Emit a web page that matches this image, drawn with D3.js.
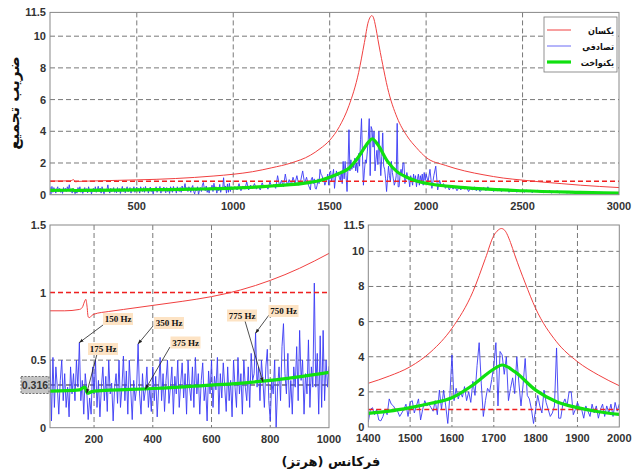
<!DOCTYPE html>
<html>
<head>
<meta charset="utf-8">
<script src="https://cdn.jsdelivr.net/npm/d3@7"></script>
<style>
  body { margin: 0; background: #fff; }
  svg { display: block; }
  .tick-label { font-family: "Liberation Sans", Arial, sans-serif; font-size: 11px; font-weight: bold; fill: #333; }
  .fa { font-family: "DejaVu Sans", sans-serif; font-weight: bold; fill: #111; }
  .note { font-family: "Liberation Serif", serif; font-size: 9px; font-weight: bold; fill: #111; }
</style>
</head>
<body>
<svg id="chart" width="633" height="475"></svg>
<script>
// ---- data ----
// blue (random) response: 50..1000 Hz, every 5 Hz
const blueLow = [
  0.5, 0.05, 0.52, 0.15, 0.45, 0.3, 0.1, 0.35, 0.5, 0.2,
  0.4, 0.15, 0.3, 0.08, 0.45, 0.25, 0.4, 0.2, 0.5, 0.3,
  0.63, 0.2, 0.35, 0.1, 0.4, 0.28, 0.06, 0.22, 0.1, 0.45,
  0.25, 0.5, 0.15, 0.35, 0.08, 0.3, 0.45, 0.2, 0.38, 0.12,
  0.5, 0.25, 0.33, 0.05, 0.3, 0.4, 0.18, 0.5, 0.15, 0.3,
  0.53, 0.2, 0.42, 0.1, 0.5, 0.28, 0.06, 0.35, 0.2, 0.3,
  0.62, 0.25, 0.1, 0.4, 0.2, 0.28, 0.45, 0.15, 0.3, 0.12,
  0.45, 0.2, 0.38, 0.08, 0.3, 0.52, 0.2, 0.4, 0.12, 0.35,
  0.5, 0.18, 0.3, 0.45, 0.1, 0.38, 0.25, 0.5, 0.15, 0.33,
  0.48, 0.22, 0.4, 0.1, 0.5, 0.3, 0.2, 0.45, 0.15, 0.52,
  0.25, 0.4, 0.1, 0.35, 0.48, 0.2, 0.3, 0.05, 0.42, 0.25,
  0.5, 0.15, 0.38, 0.28, 0.52, 0.1, 0.4, 0.22, 0.48, 0.3,
  0.12, 0.45, 0.2, 0.35, 0.08, 0.5, 0.3, 0.15, 0.52, 0.25,
  0.4, 0.1, 0.5, 0.3, 0.2, 0.45, 0.15, 0.55, 0.35, 0.4,
  0.7, 0.3, 0.45, 0.2, 0.5, 0.35, 0.15, 0.45, 0.58, 0.2,
  0.05, 0.35, 0.25, 0.5, 0.0, 0.3, 0.45, 0.2, 0.6, 0.77,
  0.4, 0.25, 0.55, 0.15, 0.35, 0.1, 0.45, 0.3, 0.6, 0.2,
  0.72, 0.35, 0.5, 0.1, 0.4, 0.25, 0.65, 0.15, 0.45, 0.3,
  1.07, 0.3, 0.55, 0.1, 0.68, 0.15, 0.72, 0.2, 0.5, 0.3,
  0.45
];
// 1010..1390 Hz, every 10 Hz
const blueGap = [
  0.5, 0.3, 0.7, 0.25, 0.55, 0.35, 0.8, 0.3, 0.6, 0.4,
  0.7, 0.35, 0.55, 0.3, 0.75, 0.45, 0.6, 0.35, 0.8, 0.5,
  0.65, 0.4, 1.2, 0.55, 0.9, 0.5, 1.3, 0.6, 0.95, 0.55,
  1.1, 0.7, 1.2, 0.6, 0.9, 1.5, 0.7, 1.1, 0.6
];
// 1400..2000 Hz, every 5 Hz
const blueMid = [
  0.3, 1.0, 1.1, 0.7, 1.0, 0.4, 0.35, 0.6, 1.0, 0.7,
  1.6, 1.3, 1.2, 1.0, 0.9, 0.6, 0.8, 1.0, 1.3, 0.6,
  1.4, 1.5, 0.8, 1.2, 1.6, 0.4, 1.0, 1.5, 1.2, 1.3,
  1.1, 0.9, 1.5, 0.7, 2.1, 1.0, 2.1, 1.2, 0.2, 1.8,
  4.1, 1.5, 2.2, 1.6, 2.0, 1.7, 2.3, 1.5, 2.0, 1.4,
  2.6, 1.8, 3.5, 4.8, 2.5, 0.6, 1.5, 2.2, 2.0, 2.7,
  3.5, 4.8, 1.2, 4.3, 4.1, 3.0, 4.0, 1.5, 2.2, 2.8,
  1.9, 4.0, 2.5, 1.2, 2.4, 3.9, 1.8, 1.6, 1.0, 0.2,
  1.0, 1.8, 1.2, 0.8, 2.1, 1.4, 1.0, 0.6, 0.8, 1.2,
  4.5, 0.5, 0.5, 1.3, 1.6, 1.2, 2.0, 2.0, 0.7, 1.0,
  1.4, 1.1, 1.0, 0.5, 1.2, 0.9, 0.6, 1.3, 0.8, 1.2,
  0.5, 1.0, 1.3, 0.6, 1.2, 0.8, 1.3, 0.6, 1.4, 0.9,
  1.3
];
// 2010..3000 Hz, every 10 Hz
const blueHigh = [
  0.8, 1.6, 0.4, 1.2, 1.8, 0.3, 0.9, 0.5, 0.7, 0.4,
  0.6, 0.3, 0.55, 0.35, 0.5, 0.25, 0.45, 0.3, 0.5, 0.35,
  0.45, 0.2, 0.4, 0.3, 0.5, 0.25, 0.4, 0.2, 0.35, 0.45,
  0.25, 0.5, 0.3, 0.4, 0.2, 0.35, 0.25, 0.4, 0.2, 0.3,
  0.25, 0.35, 0.15, 0.3, 0.2, 0.35, 0.15, 0.3, 0.2, 0.25,
  0.15, 0.3, 0.2, 0.28, 0.12, 0.25, 0.18, 0.3, 0.15, 0.25,
  0.12, 0.22, 0.15, 0.28, 0.1, 0.2, 0.15, 0.25, 0.1, 0.2,
  0.12, 0.22, 0.1, 0.18, 0.12, 0.2, 0.08, 0.18, 0.12, 0.2,
  0.1, 0.15, 0.08, 0.18, 0.1, 0.15, 0.08, 0.14, 0.1, 0.15,
  0.08, 0.13, 0.07, 0.12, 0.09, 0.13, 0.07, 0.11, 0.08, 0.1
];

// red (uniform) response, sampled at uneven frequencies
const redFreq = [50, 100, 150, 160, 167, 172, 176, 180, 185, 192, 200, 250, 300, 400, 500, 600, 700, 800, 900, 1000,
  1100, 1200, 1300, 1400, 1450, 1500, 1550, 1600, 1650, 1680, 1700, 1710, 1718, 1726, 1740, 1750, 1775, 1800, 1850,
  1900, 1950, 2000, 2100, 2200, 2300, 2400, 2500, 2600, 2700, 2800, 2900, 3000];
const redVal = [0.865, 0.865, 0.875, 0.89, 0.93, 0.95, 0.9, 0.82, 0.815, 0.83, 0.84, 0.86, 0.875, 0.905, 0.935, 0.97, 1.02, 1.09, 1.18, 1.29,
  1.45, 1.7, 2.0, 2.49, 2.9, 3.43, 4.29, 5.62, 7.7, 9.6, 10.9, 11.2, 11.3, 11.2, 10.5, 9.8, 8.2, 6.75, 4.85,
  3.72, 2.96, 2.35, 1.85, 1.5, 1.25, 1.05, 0.92, 0.8, 0.7, 0.6, 0.52, 0.45];

// green (smoothed) response
const greenFreq = [50, 150, 168, 178, 190, 200, 400, 600, 800, 1000, 1200, 1400, 1450, 1500, 1550, 1600, 1650, 1700,
  1720, 1750, 1800, 1850, 1900, 1950, 2000, 2200, 2500, 2800, 3000];
const greenVal = [0.27, 0.28, 0.3, 0.255, 0.265, 0.27, 0.29, 0.315, 0.35, 0.41, 0.55, 0.78, 0.9, 1.1, 1.35, 1.67, 2.39, 3.3,
  3.53, 3.15, 2.1, 1.44, 1.1, 0.87, 0.72, 0.45, 0.25, 0.15, 0.1];

const thresholdTop = 0.85;
const thresholdZoom = 1;
const refLevel = 0.316;

const legendLabels = ["یکسان", "تصادفی", "یکنواخت"];
const noteLabels = ["150 Hz", "175 Hz", "350 Hz", "375 Hz", "775 Hz", "750 Hz"];
const noteFreq = [150, 175, 350, 375, 775, 750];
const noteTarget = [0.63, 0.255, 0.62, 0.285, 0.34, 0.7];

// ---- assemble the blue series ----
const blueFreq = [].concat(d3.range(50, 1001, 5), d3.range(1010, 1391, 10), d3.range(1400, 2001, 5), d3.range(2010, 3001, 10));
const blueVal = [].concat(blueLow, blueGap, blueMid, blueHigh);
const blue = blueFreq.map((f, i) => ({f: f, v: blueVal[i]}));
const red = redFreq.map((f, i) => ({f: f, v: redVal[i]}));
const green = greenFreq.map((f, i) => ({f: f, v: greenVal[i]}));

const svg = d3.select("#chart");
const defs = svg.append("defs");
defs.append("marker")
    .attr("id", "arrow")
    .attr("viewBox", "0 0 10 10")
    .attr("refX", 9).attr("refY", 5)
    .attr("markerWidth", 6).attr("markerHeight", 6)
    .attr("orient", "auto")
  .append("path")
    .attr("d", "M0,1.5 L10,5 L0,8.5 z")
    .attr("fill", "#222");

function drawPanel(cfg) {
  const x = d3.scaleLinear().domain(cfg.xDomain).range([cfg.left, cfg.right]);
  const y = d3.scaleLinear().domain(cfg.yDomain).range([cfg.bottom, cfg.top]);
  const g = svg.append("g");

  defs.append("clipPath").attr("id", "clip-" + cfg.id)
    .append("rect")
      .attr("x", cfg.left).attr("y", cfg.top)
      .attr("width", cfg.right - cfg.left).attr("height", cfg.bottom - cfg.top);

  // grid
  g.selectAll(".vgrid").data(cfg.xTicks.filter(t => t > cfg.xDomain[0] && t < cfg.xDomain[1]))
    .join("line")
      .attr("x1", d => x(d)).attr("x2", d => x(d))
      .attr("y1", cfg.top).attr("y2", cfg.bottom)
      .attr("stroke", "#555").attr("stroke-width", 0.8).attr("stroke-dasharray", "5,3");
  g.selectAll(".hgrid").data(cfg.yTicks.filter(t => t > cfg.yDomain[0] && t < cfg.yDomain[1]))
    .join("line")
      .attr("x1", cfg.left).attr("x2", cfg.right)
      .attr("y1", d => y(d)).attr("y2", d => y(d))
      .attr("stroke", "#555").attr("stroke-width", 0.8).attr("stroke-dasharray", "5,3");

  const plot = g.append("g").attr("clip-path", "url(#clip-" + cfg.id + ")");

  if (cfg.refLine) {
    plot.append("line")
      .attr("x1", cfg.left).attr("x2", cfg.right)
      .attr("y1", y(refLevel)).attr("y2", y(refLevel))
      .attr("stroke", "#222").attr("stroke-width", 1).attr("stroke-dasharray", "5,3");
  }

  const line = d3.line().x(d => x(d.f)).y(d => y(d.v));
  const smooth = d3.line().x(d => x(d.f)).y(d => y(d.v)).curve(d3.curveMonotoneX);
  const inView = arr => arr.filter(d => d.f >= cfg.xDomain[0] - 60 && d.f <= cfg.xDomain[1] + 60);

  plot.append("path").datum(inView(blue))
    .attr("d", line).attr("fill", "none")
    .attr("stroke", "#3a3af5").attr("stroke-width", 0.9);

  plot.append("line")
    .attr("x1", cfg.left).attr("x2", cfg.right)
    .attr("y1", y(cfg.threshold)).attr("y2", y(cfg.threshold))
    .attr("stroke", "#f02020").attr("stroke-width", 1.6).attr("stroke-dasharray", "5,3");

  plot.append("path").datum(inView(red))
    .attr("d", smooth).attr("fill", "none")
    .attr("stroke", "#f04040").attr("stroke-width", 1);

  plot.append("path").datum(inView(green))
    .attr("d", smooth).attr("fill", "none")
    .attr("stroke", "#10e010").attr("stroke-width", 3.2);

  // frame
  g.append("rect")
    .attr("x", cfg.left).attr("y", cfg.top)
    .attr("width", cfg.right - cfg.left).attr("height", cfg.bottom - cfg.top)
    .attr("fill", "none").attr("stroke", "#888").attr("stroke-width", 1);

  // tick labels
  g.selectAll(".xl").data(cfg.xLabels)
    .join("text")
      .attr("class", "tick-label")
      .attr("x", d => x(d)).attr("y", cfg.bottom + 15)
      .attr("text-anchor", "middle")
      .text(d => d);
  g.selectAll(".yl").data(cfg.yTicks)
    .join("text")
      .attr("class", "tick-label")
      .attr("x", cfg.left - 4).attr("y", d => y(d) + 4)
      .attr("text-anchor", "end")
      .text(d => d);

  return {x: x, y: y, g: g};
}

const topPanel = drawPanel({
  id: "top", left: 50, right: 619, top: 12.4, bottom: 194.7,
  xDomain: [50, 3000], yDomain: [0, 11.5],
  xTicks: [500, 1000, 1500, 2000, 2500, 3000], xLabels: [500, 1000, 1500, 2000, 2500, 3000],
  yTicks: [0, 2, 4, 6, 8, 10, 11.5], threshold: thresholdTop
});

const lowPanel = drawPanel({
  id: "bl", left: 50, right: 329, top: 225, bottom: 427.7,
  xDomain: [50, 1000], yDomain: [0, 1.5],
  xTicks: [200, 400, 600, 800, 1000], xLabels: [200, 400, 600, 800, 1000],
  yTicks: [0, 0.5, 1, 1.5], threshold: thresholdZoom, refLine: true
});

const midPanel = drawPanel({
  id: "br", left: 368.3, right: 619.3, top: 225, bottom: 427,
  xDomain: [1400, 2000], yDomain: [0, 11.5],
  xTicks: d3.range(1400, 2001, 100), xLabels: d3.range(1400, 2001, 100),
  yTicks: [0, 2, 4, 6, 8, 10, 11.5], threshold: thresholdZoom
});

// 0.316 marker box
const refG = svg.append("g");
refG.append("rect")
  .attr("x", 21).attr("y", lowPanel.y(refLevel) - 8.5)
  .attr("width", 28).attr("height", 17)
  .attr("fill", "#c4c4c4").attr("stroke", "#555").attr("stroke-width", 0.8).attr("stroke-dasharray", "2,1.5");
refG.append("text")
  .attr("class", "tick-label")
  .attr("x", 35).attr("y", lowPanel.y(refLevel) + 4)
  .attr("text-anchor", "middle").style("font-size", "10.5px")
  .text(refLevel);

// annotations on the low-frequency panel
const noteBox = [[118, 319], [103, 349], [169, 323], [185.5, 342.5], [242, 315.5], [283.5, 311]];
const noteStart = [[103, 325], [97, 354], [153, 326], [170, 347], [245, 321], [269, 315]];
noteLabels.forEach((lab, i) => {
  const tx = lowPanel.x(noteFreq[i]), ty = lowPanel.y(noteTarget[i]);
  svg.append("line")
    .attr("x1", noteStart[i][0]).attr("y1", noteStart[i][1])
    .attr("x2", tx).attr("y2", ty)
    .attr("stroke", "#222").attr("stroke-width", 0.8)
    .attr("marker-end", "url(#arrow)");
});
noteLabels.forEach((lab, i) => {
  const [cx, cy] = noteBox[i];
  svg.append("rect")
    .attr("x", cx - 15).attr("y", cy - 6)
    .attr("width", 30).attr("height", 12)
    .attr("fill", "#fde3c4");
  svg.append("text")
    .attr("class", "note")
    .attr("x", cx).attr("y", cy + 3)
    .attr("text-anchor", "middle")
    .text(lab);
});

// legend
const lg = svg.append("g");
lg.append("rect")
  .attr("x", 544).attr("y", 17).attr("width", 73).attr("height", 55)
  .attr("fill", "#fff").attr("stroke", "#777").attr("stroke-width", 0.8);
const legendStyle = [["#f04040", 1], ["#6a6af5", 1], ["#10e010", 3.2]];
legendLabels.forEach((lab, i) => {
  const ly = 30 + i * 16;
  lg.append("line")
    .attr("x1", 547).attr("x2", 571).attr("y1", ly).attr("y2", ly)
    .attr("stroke", legendStyle[i][0]).attr("stroke-width", legendStyle[i][1]);
  lg.append("text")
    .attr("class", "fa")
    .attr("x", 614).attr("y", ly + 3.5)
    .attr("text-anchor", "end")
    .style("font-family", "'DejaVu Sans Condensed', 'DejaVu Sans', sans-serif")
    .style("font-size", "9px")
    .text(lab);
});

// axis titles
svg.append("text")
  .attr("class", "fa")
  .attr("x", 331).attr("y", 466)
  .attr("text-anchor", "middle").style("font-size", "13px")
  .text("فرکانس (هرتز)");
svg.append("text")
  .attr("class", "fa")
  .attr("transform", "translate(19,103) rotate(-90)")
  .attr("text-anchor", "middle").style("font-size", "15px")
  .text("ضریب تجمیع");
</script>
</body>
</html>
